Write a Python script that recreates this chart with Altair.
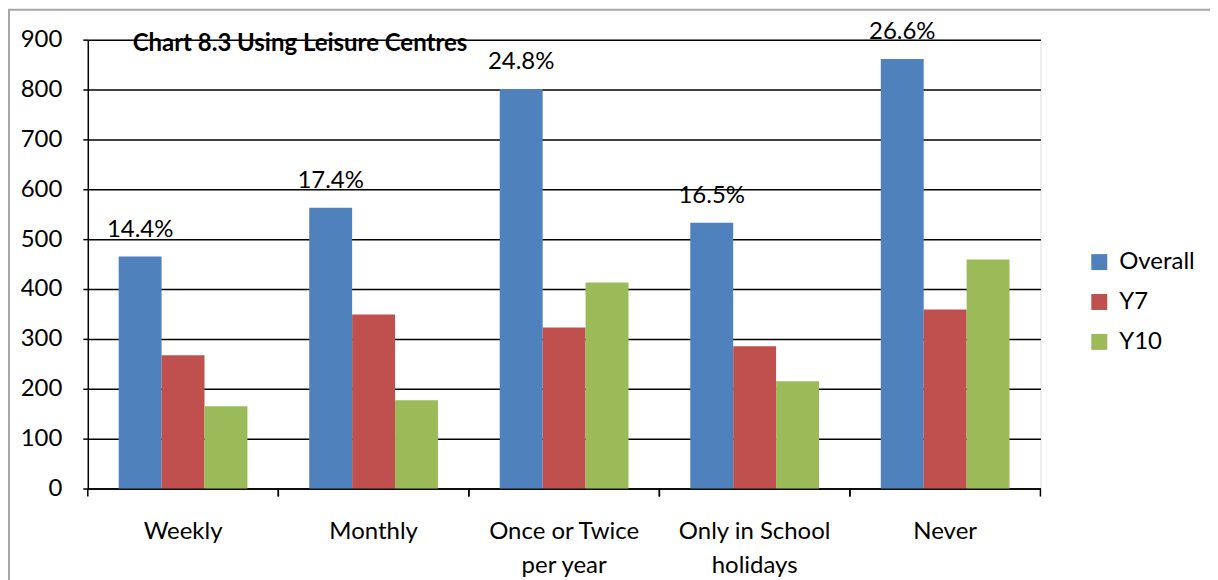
import altair as alt
import pandas as pd

categories = ["Weekly", "Monthly", "Once or Twice per year", "Only in School holidays", "Never"]
series = ["Overall", "Y7", "Y10"]
overall = [465, 563, 801, 533, 861]
y7 = [267, 349, 323, 285, 359]
y10 = [165, 177, 413, 215, 459]
pct_labels = ["14.4%", "17.4%", "24.8%", "16.5%", "26.6%"]
title_text = ["Chart 8.3 Using Leisure Centres"]
colors = ["#4F81BD", "#C0504D", "#9BBB59"]

rows = []
for i, c in enumerate(categories):
    for s, vals in zip(series, [overall, y7, y10]):
        rows.append({"cat": c, "series": s, "value": vals[i]})
df = pd.DataFrame(rows)
lab_df = pd.DataFrame({"cat": categories, "series": ["Overall"] * 5, "value": overall, "pct": pct_labels})
cat_df = pd.DataFrame({"cat": categories})
title_df = pd.DataFrame({"t": title_text})

FONT = "Lato"
FS = 24

xscale = alt.Scale(domain=categories, paddingInner=0, paddingOuter=0)
xoff = alt.XOffset("series:N", scale=alt.Scale(domain=series, paddingInner=0, paddingOuter=0.72), sort=series)
yscale = alt.Scale(domain=[0, 900])

label_expr = ("datum.value == 'Once or Twice per year' ? ['Once or Twice', 'per year'] : "
              "datum.value == 'Only in School holidays' ? ['Only in School', 'holidays'] : datum.value")

bars = alt.Chart(df).mark_bar().encode(
    x=alt.X("cat:N", scale=xscale, sort=categories, title=None,
            axis=alt.Axis(labelAngle=0, ticks=False, labelFontSize=FS, labelFont=FONT,
                          labelColor="black", labelPadding=31, labelLineHeight=34,
                          labelBaseline="top", domainColor="black", domainWidth=1.5,
                          labelExpr=label_expr)),
    xOffset=xoff,
    y=alt.Y("value:Q", scale=yscale, title=None,
            axis=alt.Axis(values=list(range(0, 901, 100)), labelFontSize=FS, labelFont=FONT,
                          labelColor="black", labelPadding=21, tickSize=5, tickColor="black",
                          tickWidth=1.5, domainColor="black", domainWidth=1.5,
                          gridColor="black", gridWidth=1.5, gridOpacity=1)),
    color=alt.Color("series:N", scale=alt.Scale(domain=series, range=colors), sort=series,
                    legend=alt.Legend(title=None, orient="none", legendX=1002, legendY=211,
                                      symbolType="square", symbolSize=256, symbolStrokeWidth=0,
                                      labelFontSize=FS, labelFont=FONT, labelColor="black",
                                      labelOffset=8, rowPadding=16, padding=0)),
)

text = alt.Chart(lab_df).mark_text(fontSize=FS, font=FONT, color="black", baseline="alphabetic", dy=-20).encode(
    x=alt.X("cat:N", scale=xscale, sort=categories),
    xOffset=xoff,
    y=alt.Y("value:Q", scale=yscale),
    text="pct:N",
)

title = alt.Chart(title_df).mark_text(fontSize=FS, font=FONT, fontWeight="bold", color="black",
                                      align="left", baseline="alphabetic").encode(
    x=alt.value(45), y=alt.value(11), text="t:N",
)

ticks_left = alt.Chart(cat_df).mark_rule(color="black", strokeWidth=1.5).encode(
    x=alt.X("cat:N", scale=xscale, sort=categories, bandPosition=0),
    y=alt.value(450), y2=alt.value(458),
)
ticks_right = alt.Chart(cat_df).mark_rule(color="black", strokeWidth=1.5).encode(
    x=alt.X("cat:N", scale=xscale, sort=categories, bandPosition=1),
    y=alt.value(450), y2=alt.value(458),
)

border = alt.Chart(cat_df.head(1)).mark_rect(filled=False, stroke="#A6A6A6", strokeWidth=2).encode(
    x=alt.value(-79), x2=alt.value(1300), y=alt.value(-30), y2=alt.value(700),
)

chart = alt.layer(border, bars, text, ticks_left, ticks_right, title).properties(
    width=955, height=450,
    padding={"left": 80, "top": 31, "right": 170, "bottom": 91},
    autosize=alt.AutoSizeParams(type="none"),
).configure_view(stroke=None).configure(background="white")

chart.save("out.html", embed_options={"renderer": "svg", "actions": False})
